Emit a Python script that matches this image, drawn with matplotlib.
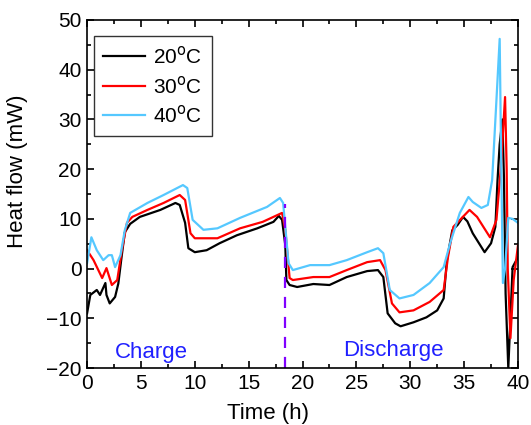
import numpy as np
import matplotlib
matplotlib.use('Agg')
from matplotlib import pyplot as plt
from matplotlib.ticker import MultipleLocator

plt.rcParams['font.family'] = ['Liberation Sans', 'DejaVu Sans']

# 20 C
t20 = [0.0, 0.3, 0.9, 1.2, 1.7, 1.8, 2.1, 2.6, 2.9, 3.2, 3.5, 4.0, 4.9, 6.8, 8.2, 8.6, 9.1, 9.4, 10.0,
       11.1, 12.3, 13.9, 15.8, 17.3, 17.8, 18.1, 18.4, 18.5, 18.8, 19.5, 21.0, 22.5, 24.1, 26.0, 27.0,
       27.5, 27.9, 28.6, 29.1, 30.3, 31.5, 32.5, 33.1, 33.4, 33.9, 34.4, 34.9, 35.3, 35.8, 36.9, 37.5,
       37.9, 38.1, 38.3, 38.55, 38.7, 38.85, 39.1, 39.3, 39.5, 40.0]
q20 = [-9.0, -5.3, -4.3, -5.3, -2.9, -5.3, -7.0, -5.7, -3.0, 2.3, 7.3, 9.0, 10.4, 11.8, 13.2, 12.8, 9.2, 4.1, 3.3,
       3.7, 5.1, 6.7, 8.1, 9.4, 10.6, 9.8, 4.7, -2.3, -3.3, -3.7, -3.1, -3.3, -1.7, -0.5, -0.3,
       -1.7, -9.0, -11.0, -11.6, -10.8, -9.8, -8.4, -6.0, 1.7, 7.7, 8.8, 10.4, 9.5, 7.1, 3.3, 5.1,
       8.4, 17.8, 25.0, 30.0, 18.0, -5.0, -20.0, -10.0, 0.3, 2.3]

# 30 C
t30 = [0.0, 0.6, 1.4, 1.8, 2.3, 2.8, 3.2, 3.7, 4.2, 5.6, 7.1, 8.6, 9.1, 9.6, 10.0, 12.1, 14.2, 16.3,
       18.1, 18.4, 18.8, 19.1, 21.0, 22.5, 24.1, 26.0, 27.2, 27.7, 28.3, 29.0, 30.3, 31.8, 33.1, 33.5,
       34.0, 35.5, 36.2, 37.4, 38.0, 38.4, 38.8, 38.95, 39.05, 39.3, 39.6, 40.0]
q30 = [3.7, 1.7, -1.9, 0.1, -3.3, -2.3, 3.3, 9.2, 10.4, 11.8, 13.2, 14.8, 13.8, 7.1, 6.1, 6.1, 8.1, 9.4,
       11.2, 7.8, -1.9, -2.3, -1.7, -1.7, -0.3, 1.3, 1.7, -0.3, -7.0, -8.8, -8.4, -6.7, -4.3, 2.3,
       8.4, 11.8, 10.4, 6.3, 9.8, 20.0, 34.5, 20.0, 0.0, -14.0, -2.3, 4.7]

# 40 C
t40 = [0.0, 0.4, 0.9, 1.5, 2.0, 2.3, 2.6, 3.1, 3.5, 4.0, 5.6, 7.1, 8.9, 9.3, 9.8, 10.8, 12.1, 14.2,
       16.7, 17.9, 18.2, 18.7, 19.1, 20.7, 22.5, 24.1, 26.0, 27.0, 27.5, 28.1, 29.0, 30.3, 31.8, 33.1,
       33.7, 34.6, 35.4, 35.8, 36.6, 37.2, 37.6, 38.0, 38.3, 38.45, 38.6, 38.8, 39.1, 39.5, 40.0]
q40 = [1.1, 6.3, 3.7, 1.7, 2.7, 2.7, 0.3, 2.7, 7.7, 11.2, 13.2, 14.8, 16.8, 16.2, 9.8, 7.8, 8.1, 10.2,
       12.4, 14.2, 13.2, 1.1, -0.3, 0.7, 0.7, 1.7, 3.3, 4.1, 3.1, -4.3, -6.0, -5.3, -2.9, 0.3,
       5.1, 11.2, 14.4, 13.4, 12.2, 12.8, 17.8, 33.9, 46.2, 20.0, -2.9, 0.0, 10.2, 10.0, 9.2]

t_switch = 18.4

fig = plt.figure(figsize=(5.31, 4.25), dpi=100)
ax = fig.add_axes([0.164, 0.134, 0.8115, 0.819])

ax.plot(t20, q20, color='black', lw=1.6, label='20$^{\\rm o}$C')
ax.plot(t30, q30, color='#ff0000', lw=1.6, label='30$^{\\rm o}$C')
ax.plot(t40, q40, color='#55c8ff', lw=1.6, label='40$^{\\rm o}$C')
ax.plot([t_switch, t_switch], [-20, 13], color='#8000ff', lw=1.6, ls=(0, (5, 4)))

ax.text(6.0, -17.9, 'Charge', color='#2020ff', fontsize=16, ha='center', va='baseline')
ax.text(28.4, -17.6, 'Discharge', color='#2020ff', fontsize=16, ha='center', va='baseline')

ax.set_xlim(0, 40)
ax.set_ylim(-20, 50)
ax.xaxis.set_major_locator(MultipleLocator(5))
ax.xaxis.set_minor_locator(MultipleLocator(2.5))
ax.yaxis.set_major_locator(MultipleLocator(10))
ax.yaxis.set_minor_locator(MultipleLocator(5))
ax.tick_params(which='both', direction='in', top=True, right=True, labelsize=15, width=1.2)
ax.tick_params(which='major', length=5, pad=4)
ax.tick_params(which='minor', length=3)
for s in ax.spines.values():
    s.set_linewidth(1.2)

ax.set_xlabel('Time (h)', fontsize=16)
ax.set_ylabel('Heat flow (mW)', fontsize=16)
ax.xaxis.set_label_coords(0.42, -0.1)
ax.yaxis.set_label_coords(-0.137, 0.566)

leg = ax.legend(loc='upper left', fontsize=15, frameon=True, fancybox=False, edgecolor='black',
                handlelength=2.0, handletextpad=0.4, borderpad=0.45, labelspacing=0.35,
                borderaxespad=0.0, bbox_to_anchor=(0.016, 0.953))
leg.get_frame().set_linewidth(1.0)

fig.savefig('out.png', dpi=100)
